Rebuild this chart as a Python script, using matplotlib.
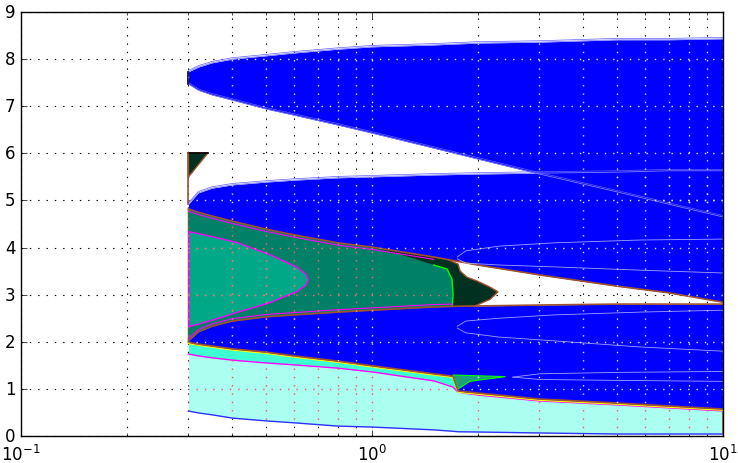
import numpy as np
import matplotlib
matplotlib.use('Agg')
import matplotlib.pyplot as plt
from matplotlib.ticker import LogLocator, NullFormatter, FixedLocator
from matplotlib.patches import PathPatch

plt.style.use('classic')

# ---------------- data ----------------
lobe_x = [0.3, 0.32, 0.35, 0.4, 0.5, 0.6, 0.8, 1.0, 1.5, 2.0, 3.0, 5.0, 7.0, 10.0]
top_hi = [7.73, 7.83, 7.92, 8.00, 8.07, 8.13, 8.21, 8.26, 8.30, 8.34, 8.36, 8.41, 8.41, 8.43]
top_lo = [7.47, 7.34, 7.24, 7.13, 6.94, 6.81, 6.60, 6.43, 6.11, 5.88, 5.56, 5.18, 4.92, 4.65]
mid_hi = [4.92, 5.16, 5.26, 5.33, 5.39, 5.43, 5.48, 5.50, 5.54, 5.56, 5.58, 5.60, 5.63, 5.63]
mid_lo = [4.82, 4.75, 4.67, 4.56, 4.39, 4.27, 4.10, 4.01, 3.80, 3.63, 3.42, 3.18, 3.04, 2.84]

low_x = [0.3, 0.32, 0.35, 0.4, 0.5, 0.6, 0.8, 1.0, 1.5, 1.7, 1.76, 2.0, 3.0, 5.0, 7.0, 10.0]
low_hi = [2.02, 2.21, 2.33, 2.44, 2.53, 2.57, 2.63, 2.67, 2.74, 2.75, 2.755, 2.76, 2.78, 2.80, 2.80, 2.80]
low_lo = [1.99, 1.95, 1.91, 1.85, 1.78, 1.70, 1.59, 1.49, 1.32, 1.27, 0.955, 0.913, 0.785, 0.70, 0.637, 0.573]
cyan_hi = [1.74, 1.70, 1.66, 1.61, 1.55, 1.51, 1.44, 1.36, 1.17, 1.04, 0.93, 0.87, 0.745, 0.66, 0.597, 0.533]
cyan_lo = [0.53, 0.49, 0.45, 0.38, 0.32, 0.28, 0.21, 0.19, 0.13, 0.10, 0.09, 0.085, 0.064, 0.042, 0.042, 0.042]

# inner teal tongue
inner_x = [0.3, 0.35, 0.41, 0.51, 0.61, 0.645, 0.657]
inner_hi = [4.35, 4.24, 4.12, 3.86, 3.59, 3.45, 3.33]
inner_lo = [2.33, 2.47, 2.63, 2.84, 3.08, 3.21, 3.33]

# mid teal region (polygon)
teal_x = [0.3, 0.5, 0.8, 1.0, 1.2, 1.5, 1.636, 1.69, 1.702, 1.69, 1.0, 0.3]
teal_y = [4.85, 4.39, 4.10, 4.00, 3.86, 3.63, 3.545, 3.33, 3.01, 2.70, 2.60, 2.00]

# darkest region (polygon)
dark_x = [0.3, 1.0, 1.636, 1.758, 1.783, 1.865, 1.992, 2.169, 2.286, 2.169, 1.963, 1.636, 0.3]
dark_y = [4.85, 4.05, 3.75, 3.65, 3.50, 3.37, 3.29, 3.16, 3.06, 2.90, 2.76, 2.70, 2.00]

# small wedge at the cusp
wedge_x = [1.70, 2.40, 1.90, 1.76]
wedge_y = [1.295, 1.26, 1.16, 1.00]

# small dark triangle top-left
tri_x = [0.3, 0.341, 0.3]
tri_y = [6.01, 6.01, 5.50]

# faint sub-tongue outlines inside the blue lobes
subA_x = [1.75, 1.85, 2.3, 3.3, 5.8, 10.0]
subA_hi = [3.80, 3.93, 4.03, 4.10, 4.16, 4.18]
subA_lo = [3.76, 3.67, 3.63, 3.59, 3.52, 3.46]
subB_x = [1.75, 1.85, 2.3, 3.3, 5.8, 10.0]
subB_hi = [2.33, 2.44, 2.50, 2.57, 2.63, 2.67]
subB_lo = [2.29, 2.19, 2.10, 2.02, 1.89, 1.80]
subC_x = [2.52, 3.0, 5.0, 10.0]
subC_hi = [1.25, 1.32, 1.35, 1.37]
subC_lo = [1.25, 1.20, 1.18, 1.16]

y_ticks = list(range(10))

# ---------------- colours ----------------
BLUE = '#0000ff'
CYAN = '#aafff0'
AQUA = '#3cffd2'
INNER = '#00a887'
TEAL = '#008066'
DARK = '#00301f'
BROWN = '#a0522d'
MAG = '#ff00ff'
DOTS = (0, (1, 5))

fig = plt.figure(figsize=(7.38, 4.64), dpi=100, facecolor='white')
ax = fig.add_axes([21/738, 27/464, 702/738, 424/464])
ax.set_xscale('log')
ax.set_xlim(0.1, 10)
ax.set_ylim(0, 9)

# green regions
dark_p = ax.fill(dark_x, dark_y, color=DARK, ec=BROWN, lw=1.0, zorder=1)[0]
teal_p = ax.fill(teal_x, teal_y, color=TEAL, ec='none', zorder=1.1)[0]
ax.plot(teal_x[5:10], teal_y[5:10], color='#00ff00', lw=1.0, zorder=1.2)
inner_c = ax.fill_between(inner_x, inner_lo, inner_hi, color=INNER, ec=MAG, lw=1.0, zorder=1.3)

# strip + cyan
ax.fill_between(low_x, cyan_hi, low_lo, color=AQUA, lw=0, zorder=1.1)
cyan_c = ax.fill_between(low_x, cyan_lo, cyan_hi, color=CYAN, lw=0, zorder=1.2)
ax.plot(low_x, cyan_hi, color=MAG, lw=1.0, zorder=1.4)
ax.plot(low_x, cyan_lo, color='#3030ff', lw=1.0, zorder=1.4)
ax.plot([10, 10], [cyan_lo[-1], low_lo[-1]], color=BROWN, lw=1.2, zorder=1.4)
ax.plot(low_x, np.array(low_lo) - 0.025, color='#ffff00', lw=1.0, zorder=1.4)

# blue lobes
blue_cs = []
for lo, hi in ((top_lo, top_hi), (mid_lo, mid_hi)):
    blue_cs.append(ax.fill_between(lobe_x, lo, hi, color=BLUE, lw=0, zorder=1.5))
blue_cs.append(ax.fill_between(low_x, low_lo, low_hi, color=BLUE, lw=0, zorder=1.5))
ax.fill(wedge_x, wedge_y, color='#1aa07a', ec='#00ff00', lw=0.8, zorder=1.6)

# lobe edges
for y in (top_hi, top_lo, mid_hi):
    ax.plot(lobe_x, y, color='#8080ff', lw=0.6, zorder=1.7)
    ax.plot(lobe_x, np.array(y) + 0.03, color='#6060ff', lw=0.5, zorder=1.7)
ax.plot(lobe_x, mid_lo, color=BROWN, lw=1.2, zorder=1.7)
ax.plot(lobe_x[:9], np.array(mid_lo[:9]) - 0.05, color=MAG, lw=0.8, zorder=1.7)
ax.plot(low_x, low_hi, color=BROWN, lw=1.2, zorder=1.7)
ax.plot(low_x[:10], np.array(low_hi[:10]) + 0.05, color=MAG, lw=0.8, zorder=1.7)
ax.plot(low_x, low_lo, color=BROWN, lw=1.2, zorder=1.7)

# sub-tongue outlines
for sx, shi, slo in ((subA_x, subA_hi, subA_lo), (subB_x, subB_hi, subB_lo), (subC_x, subC_hi, subC_lo)):
    ax.plot(sx, shi, color='#c8c8ff', lw=0.6, alpha=0.8, zorder=1.8)
    ax.plot(sx, slo, color='#c8c8ff', lw=0.6, alpha=0.8, zorder=1.8)

# top-left bits
ax.fill(tri_x, tri_y, color=DARK, ec=BROWN, lw=1.0, zorder=1.6)
ax.plot([0.3, 0.341], [6.01, 6.01], color='k', lw=1.2, zorder=1.7)
ax.plot([0.3, 0.3], [mid_hi[0], 6.01], color=BROWN, lw=1.2, zorder=1.7)
ax.plot([0.3, 0.3], [top_lo[0], top_hi[0]], color='k', lw=1.2, zorder=1.7)

# ticks / grid
ax.yaxis.set_major_locator(FixedLocator(y_ticks))
ax.xaxis.set_major_locator(LogLocator(base=10))
ax.xaxis.set_minor_locator(LogLocator(base=10, subs=np.arange(2, 10)))
ax.xaxis.set_minor_formatter(NullFormatter())
ax.tick_params(labelsize=12)
ax.tick_params(axis='x', pad=5.5)

ax.set_axisbelow(True)
ax.grid(True, which='both', color='k', linestyle=DOTS, linewidth=0.8)

# grid dots seen through the coloured regions (lighter tint)
grid_x = [d * m for d in (0.1, 1.0) for m in range(1, 10)] + [10.0]


def tinted_grid(path, color):
    clip = PathPatch(path, transform=ax.transData, fc='none', ec='none')
    ax.add_patch(clip)
    for xv in grid_x:
        ln, = ax.plot([xv, xv], [0, 9], color=color, ls=DOTS, lw=1.0, zorder=1.9)
        ln.set_clip_path(clip)
    for yv in y_ticks:
        ln, = ax.plot([0.1, 10], [yv, yv], color=color, ls=DOTS, lw=1.0, zorder=1.9)
        ln.set_clip_path(clip)


for c in blue_cs:
    tinted_grid(c.get_paths()[0], '#e8e8ff')
tinted_grid(cyan_c.get_paths()[0], '#ff5050')
tinted_grid(inner_c.get_paths()[0], '#ff8080')
tinted_grid(teal_p.get_path(), '#ff7070')

fig.savefig('out.png', dpi=100, facecolor='white')
